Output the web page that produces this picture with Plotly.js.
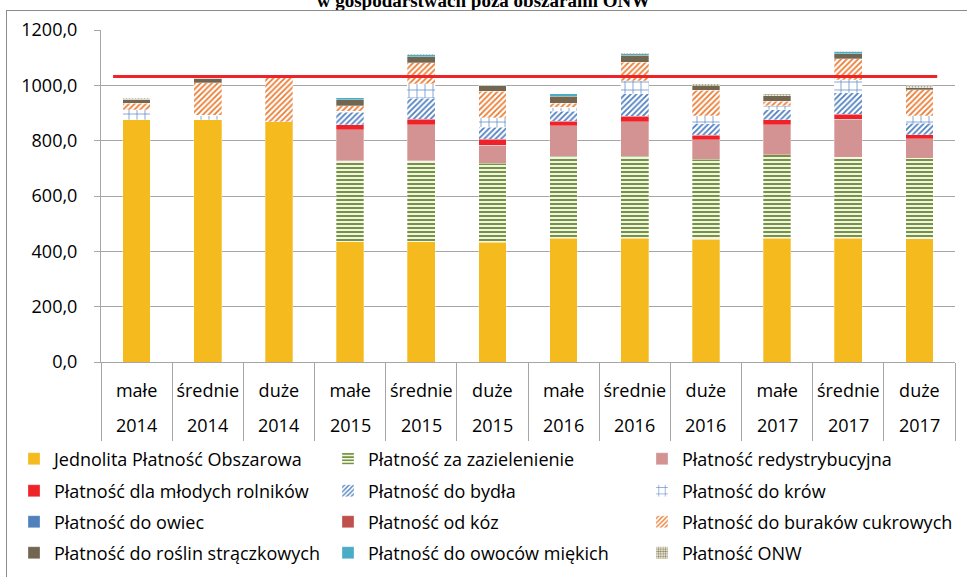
<!DOCTYPE html>
<html>
<head>
<meta charset="utf-8">
<script src="https://cdn.plot.ly/plotly-3.0.1.min.js"></script>
<style>
  html, body { margin: 0; padding: 0; background: #fff; }
  #wrap { position: relative; width: 967px; height: 577px; overflow: hidden; }
  #chart { position: absolute; left: 0; top: 0; width: 967px; height: 577px; }
  #frame { position: absolute; left: 6px; top: 10px; width: 980px; height: 600px; border: 1px solid #8c8c8c; pointer-events: none; }
</style>
</head>
<body>
<div id="wrap"><div id="chart"></div><div id="frame"></div></div>
<script>
// Categories
const sizes = ["małe","średnie","duże","małe","średnie","duże","małe","średnie","duże","małe","średnie","duże"];
const years = ["2014","2014","2014","2015","2015","2015","2016","2016","2016","2017","2017","2017"];

// Series values (zł/ha)
const jpo          = [875, 875, 868, 435, 435, 432, 448, 448, 444, 448, 448, 446];
const zazielenienie= [0, 0, 0, 293, 293, 287, 295, 295, 289, 302, 292, 291];
const redystryb    = [0, 0, 0, 111, 129, 65, 111, 126, 70, 107, 137, 70];
const mlodzi       = [0, 0, 0, 18, 20, 22, 17, 20, 16, 18, 19, 14];
const bydlo        = [0, 0, 0, 45, 76, 43, 35, 80, 42, 36, 77, 42];
const krowy        = [36, 17, 0, 5, 52, 33, 14, 48, 29, 15, 48, 27];
const owce         = [0, 0, 0, 0, 0, 0, 0, 0, 0, 0, 0, 0];
const kozy         = [0, 0, 0, 0, 0, 0, 0, 0, 0, 0, 0, 0];
const buraki       = [24, 118, 163, 19, 77, 96, 16, 67, 92, 16, 76, 94];
const straczkowe   = [14, 15, 0, 22, 22, 20, 24, 25, 17, 20, 18, 8];
const owoce        = [0, 0, 0, 7, 7, 0, 10, 5, 0, 0, 6, 0];
const onw          = [5, 2, 3, 0, 3, 3, 0, 3, 6, 6, 2, 6];

const seriesNames = [
  "Jednolita Płatność Obszarowa", "Płatność za zazielenienie", "Płatność redystrybucyjna",
  "Płatność dla młodych rolników", "Płatność do bydła", "Płatność do krów",
  "Płatność do owiec", "Płatność od kóz", "Płatność do buraków cukrowych",
  "Płatność do roślin strączkowych", "Płatność do owoców miękich", "Płatność ONW"
];

// Reference level (red line)
const limitValue = [1032];

const yTickVals = [0, 200, 400, 600, 800, 1000, 1200];

const xKeys = sizes.map((s, i) => s + " " + years[i]);

const seriesData = [jpo, zazielenienie, redystryb, mlodzi, bydlo, krowy, owce, kozy, buraki, straczkowe, owoce, onw];
const styles = [
  {color: "#F4BA1E"},
  {color: "#ffffff", pattern: {shape: "-", fgcolor: "#77933C", bgcolor: "#ffffff", size: 4, solidity: 0.55}},
  {color: "#D49393"},
  {color: "#EE2228"},
  {color: "#ffffff", pattern: {shape: "/", fgcolor: "#4F7FC0", bgcolor: "#ffffff", size: 4, solidity: 0.45}},
  {color: "#ffffff", pattern: {shape: "+", fgcolor: "#5F8AC6", bgcolor: "#ffffff", size: 8, solidity: 0.18}},
  {color: "#4F81BD"},
  {color: "#C0504D"},
  {color: "#ffffff", pattern: {shape: "/", fgcolor: "#EA7C33", bgcolor: "#ffffff", size: 4, solidity: 0.45}},
  {color: "#726650"},
  {color: "#4BACC6"},
  {color: "#ffffff", pattern: {shape: ".", fgcolor: "#8E8456", bgcolor: "#ffffff", size: 3, solidity: 0.5}}
];

const fontMain = "Open Sans, Lato, sans-serif";
// legend grid: 3 columns x 4 rows (pixel positions of text start / row centre)
const colTextX = [54, 368, 682];
const rowY = [459, 491, 522, 553];

const legendIds = seriesNames.map((_, k) => k === 0 ? "legend" : "legend" + (k + 1));

const traces = seriesData.map((vals, k) => {
  const m = {color: styles[k].color, line: {color: "rgba(255,255,255,0.6)", width: 0.5}};
  if (styles[k].pattern) m.pattern = Object.assign({fillmode: "replace"}, styles[k].pattern);
  return {
    type: "bar", name: seriesNames[k], x: xKeys, y: vals, marker: m,
    legend: legendIds[k],
    hoverinfo: "x+y+name"
  };
});

// plot area geometry (px)
const plotTop = 30, plotBottom = 362;
const plotH = plotBottom - plotTop;
const yearRowY = 425;

const layout = {
  width: 967, height: 577,
  paper_bgcolor: "rgba(0,0,0,0)", plot_bgcolor: "#fff",
  barmode: "stack", bargap: 0.61,
  separators: ", ",
  margin: {l: 101, r: 12, t: plotTop, b: 577 - plotBottom, autoexpand: false},
  font: {family: fontMain, size: 18, color: "#000"},
  title: {
    text: "<b>w gospodarstwach poza obszarami ONW</b>",
    font: {family: "Liberation Serif, Times New Roman, serif", size: 19, color: "#000"},
    x: 0.5, xanchor: "center", y: 1.0, yref: "container", yanchor: "middle"
  },
  xaxis: {
    type: "category", tickson: "boundaries", ticks: "outside", ticklen: 78,
    tickcolor: "#a6a6a6", tickwidth: 1,
    tickvals: xKeys, ticktext: sizes, ticklabelstandoff: 12,
    showline: true, linecolor: "#a6a6a6", linewidth: 1,
    showgrid: false, tickfont: {family: fontMain, size: 18, color: "#000"}, tickangle: 0,
    automargin: false
  },
  yaxis: {
    range: [0, 1200], tickvals: yTickVals, tickformat: ".1f",
    ticks: "outside", ticklen: 6, tickcolor: "#a6a6a6", ticklabelstandoff: 13,
    showline: true, linecolor: "#a6a6a6", linewidth: 1,
    gridcolor: "#a6a6a6", gridwidth: 1, zeroline: false,
    tickfont: {family: fontMain, size: 18, color: "#000"},
    automargin: false
  },
  annotations: years.map((yr, i) => ({
    xref: "x", yref: "paper", x: xKeys[i], y: (plotBottom - yearRowY) / plotH,
    yanchor: "middle", xanchor: "center", showarrow: false, text: yr,
    font: {family: fontMain, size: 18, color: "#000"}
  })),
  shapes: [{
    type: "line", xref: "x", yref: "y",
    x0: -0.33, x1: 11.25, y0: limitValue[0], y1: limitValue[0],
    line: {color: "#EE2228", width: 3}
  }],
  showlegend: true
};

legendIds.forEach((id, k) => {
  const col = k % 3, row = Math.floor(k / 3);
  layout[id] = {
    orientation: "v",
    x: (colTextX[col] - 40) / 967, xref: "container", xanchor: "left",
    y: 1 - rowY[row] / 577, yref: "container", yanchor: "middle",
    font: {family: fontMain, size: 18, color: "#000"}, itemwidth: 30,
    bgcolor: "rgba(0,0,0,0)", borderwidth: 0
  };
});

Plotly.newPlot("chart", traces, layout, {displayModeBar: false, staticPlot: true});
</script>
</body>
</html>
